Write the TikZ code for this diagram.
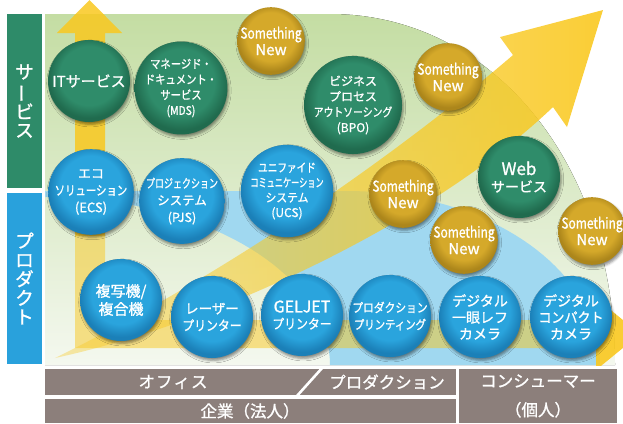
\documentclass[tikz,border=0pt]{standalone}
\usepackage{fontspec}
\usepackage{graphicx}
\setmainfont{Noto Sans CJK JP}
\newfontfamily\jp[FakeBold=1.1]{Noto Sans CJK JP}
\newfontfamily\jpc[FakeStretch=0.86,FakeBold=1.1]{Noto Sans CJK JP}
\usetikzlibrary{shadows.blur,fadings}

\definecolor{gtop}{HTML}{C4DDA3}
\definecolor{gbot}{HTML}{F4F8EF}
\definecolor{bbg}{HTML}{A0D8F0}
\definecolor{ylw}{HTML}{F9C81F}
\definecolor{bluec}{HTML}{2AA4DD}
\definecolor{blued}{HTML}{1B80B8}
\definecolor{greenc}{HTML}{2F8C6A}
\definecolor{greend}{HTML}{206B4E}
\definecolor{goldc}{HTML}{D5A92A}
\definecolor{goldd}{HTML}{AC861B}
\definecolor{barc}{HTML}{8C7F7B}
\definecolor{lgreen}{HTML}{2E8B69}
\definecolor{lblue}{HTML}{29A1DC}

\pgfdeclareradialshading{sblue}{\pgfpoint{0bp}{5bp}}{color(0bp)=(bluec); color(18bp)=(bluec); color(25bp)=(blued); color(50bp)=(blued)}
\pgfdeclareradialshading{sgreen}{\pgfpoint{0bp}{5bp}}{color(0bp)=(greenc); color(18bp)=(greenc); color(25bp)=(greend); color(50bp)=(greend)}
\pgfdeclareradialshading{sgold}{\pgfpoint{0bp}{5bp}}{color(0bp)=(goldc); color(18bp)=(goldc); color(25bp)=(goldd); color(50bp)=(goldd)}

\tikzfading[name=diagfade, left color=transparent!65, right color=transparent!10]

\begin{document}
\begin{tikzpicture}[x=1pt,y=-1pt,
  circ/.style={circle, minimum size=82pt, inner sep=0pt, text=white, align=center,
    blur shadow={shadow xshift=1.2pt, shadow yshift=-2.4pt, shadow blur radius=2.5pt, shadow opacity=45}},
  bc/.style={circ, shading=sblue},
  gc/.style={circ, shading=sgreen},
  oc/.style={circ, shading=sgold, minimum size=67pt, font=\jp\fontsize{15}{16.5}\selectfont},
  lab/.style={text=white, align=center, inner sep=0pt},
  barbox/.style={fill=barc, inner sep=0pt},
  sideg/.style={fill=lgreen, inner sep=0pt, minimum width=35pt},
  sideb/.style={fill=lblue, inner sep=0pt, minimum width=35pt},
]
\useasboundingbox (0,0) rectangle (623,423);

% backgrounds
\fill[top color=gtop, bottom color=gbot] (45,14) -- (330,14) .. controls (490,14) and (615,160) .. (615,365) -- (45,365) -- cycle;
\fill[bbg] (45,191) -- (347,191) -- plot[domain=90:0,samples=40] ({347+253*cos(\x)},{365-174*sin(\x)}) -- (330,365) -- plot[domain=0:90,samples=40] ({45+285*cos(\x)},{365-168*sin(\x)}) -- cycle;

% arrows
\fill[ylw, fill opacity=0.85] (75,236) -- (75,33) -- (57,33) -- (89.5,0) -- (122,33) -- (105,33) -- (105,236) -- cycle;
\fill[ylw, fill opacity=0.5] (75,236) -- (75,348) -- (596,348) -- (596,320) -- (105,320) -- (105,236) -- cycle;
\begin{scope}
\clip (0,0) rectangle (623,365);
\fill[ylw, fill opacity=0.9] (596,298) -- (640,334) -- (596,370) -- cycle;
\end{scope}
\fill[ylw, path fading=diagfade] (55,358) .. controls (230,320) and (440,215) .. (553,107) -- (567,127) -- (603,10) -- (500,37) -- (513,55) .. controls (420,135) and (250,262) .. (55,358) -- cycle;

% side labels
\node[sideg, minimum height=174pt] (svc) at (24.5,101) {};
\node[lab, font=\jp\fontsize{18.5}{18.5}\selectfont] (svct) at (svc) {サ\\\rotatebox[origin=c]{90}{ー}\\ビ\\ス};
\node[sideb, minimum height=171pt] (prd) at (24.5,278.5) {};
\node[lab, font=\jp\fontsize{18.5}{19}\selectfont] (prdt) at (prd) {プ\\ロ\\ダ\\ク\\ト};

% service circles
\node[gc, font=\jp\fontsize{15}{18}\selectfont] (it) at (89,81) {ITサービス};
\node[gc, font=\jpc\fontsize{12}{15.5}\selectfont] (mds) at (181,88) {マネージド・\\ドキュメント・\\サービス\\(MDS)};
\node[gc, font=\jp\fontsize{12}{15.5}\selectfont] (bpo) at (353,105) {ビジネス\\プロセス\\\scalebox{0.82}[1]{アウトソーシング}\\(BPO)};
\node[gc, font=\jp\fontsize{14}{17}\selectfont] (web) at (519,177) {{\fontsize{17}{17}\selectfont Web}\\サービス};

% something new
\node[oc] (sn1) at (271,41) {\scalebox{0.8}[1]{Something}\\New};
\node[oc] (sn2) at (448,77) {\scalebox{0.8}[1]{Something}\\New};
\node[oc] (sn3) at (403,194) {\scalebox{0.8}[1]{Something}\\New};
\node[oc] (sn4) at (464,240) {\scalebox{0.8}[1]{Something}\\New};
\node[oc] (sn5) at (592,231) {\scalebox{0.8}[1]{Something}\\New};

% product circles
\node[bc, font=\jp\fontsize{13}{17}\selectfont] (ecs) at (91,192) {エコ\\\scalebox{0.8}[1]{ソリューション}\\(ECS)};
\node[bc, font=\jp\fontsize{12.5}{17}\selectfont] (pjs) at (182,201) {\scalebox{0.72}[1]{プロジェクション}\\システム\\(PJS)};
\node[bc, font=\jp\fontsize{12}{15}\selectfont] (ucs) at (287,191) {\scalebox{0.8}[1]{ユニファイド}\\\scalebox{0.68}[1]{コミュニケーション}\\\scalebox{0.9}[1]{システム}\\(UCS)};
\node[bc, font=\jp\fontsize{15}{18}\selectfont] (copy) at (121,300) {複写機/\\複合機};
\node[bc, font=\jp\fontsize{13.5}{17}\selectfont] (laser) at (212,317) {レーザー\\\scalebox{0.88}[1]{プリンター}};
\node[bc, font=\jp\fontsize{13.5}{16.5}\selectfont] (geljet) at (302,315) {{\fontsize{16}{16}\selectfont GELJET}\\\scalebox{0.88}[1]{プリンター}};
\node[bc, font=\jp\fontsize{12.5}{17}\selectfont] (prodp) at (390,316) {\scalebox{0.86}[1]{プロダクション}\\\scalebox{0.83}[1]{プリンティング}};
\node[bc, font=\jp\fontsize{14}{16.5}\selectfont] (dslr) at (480,317) {デジタル\\一眼レフ\\カメラ};
\node[bc, font=\jp\fontsize{14}{16.5}\selectfont] (dcomp) at (571,317) {デジタル\\\scalebox{0.93}[1]{コンパクト}\\カメラ};

% bottom bars
\node[barbox, minimum width=411pt, minimum height=26pt] (office) at (250.5,382) {};
\node[barbox, minimum width=411pt, minimum height=24pt] (corp) at (250.5,411) {};
\node[barbox, minimum width=158pt, minimum height=54pt] (cons) at (538,396) {};
\coordinate (sl1) at (296,397);
\coordinate (sl2) at (323,367);
\draw[white, line width=2.6pt] (sl1) -- (sl2);
\node[lab, font=\jp\fontsize{16.5}{20}\selectfont] (toffice) at (173,382) {オ\kern1pt フ\kern1pt ィ\kern1pt ス};
\node[lab, font=\jp\fontsize{16.5}{20}\selectfont] (tprod) at (387,382) {プロダクション};
\node[lab, font=\jp\fontsize{16.5}{20}\selectfont] (tcorp) at (250,411) {企業（法人）};
\node[lab, font=\jp\fontsize{16.5}{29}\selectfont] (tcons) at (cons) {コンシューマー\\（個人）};
\end{tikzpicture}
\end{document}
